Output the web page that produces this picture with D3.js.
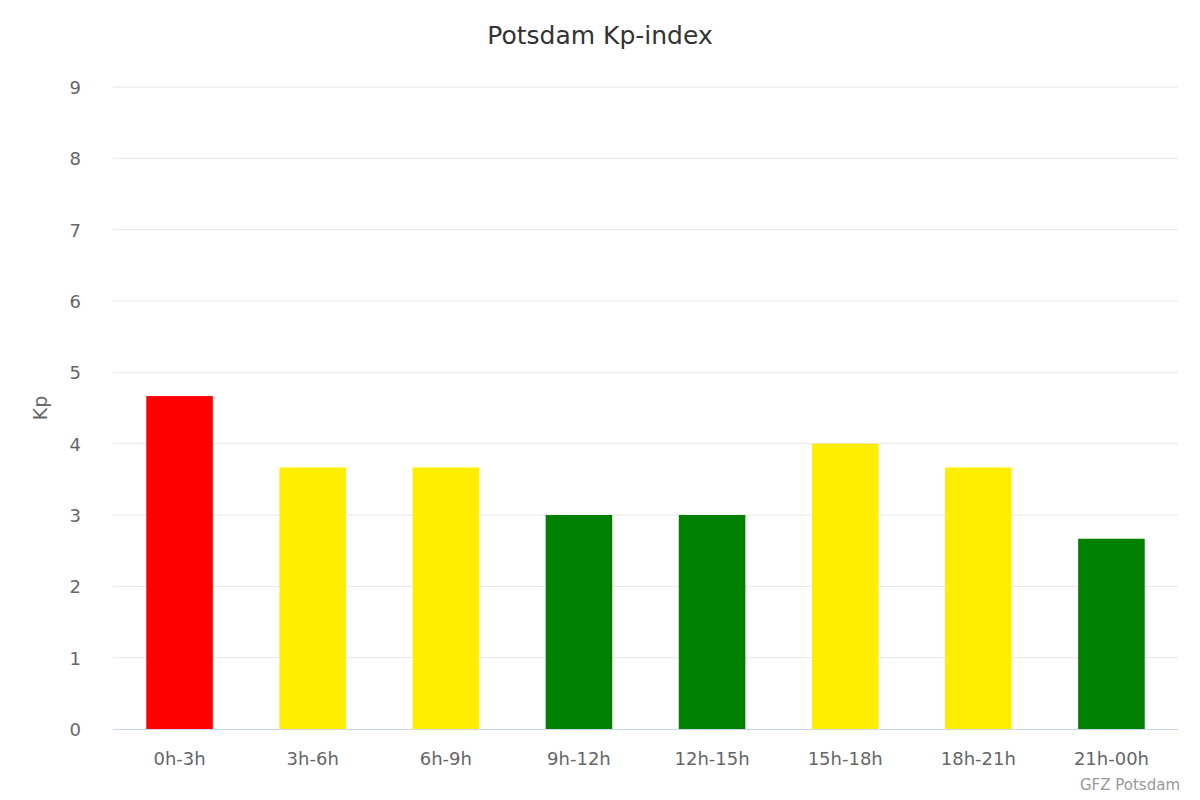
<!DOCTYPE html>
<html lang="en">
<head>
<meta charset="UTF-8">
<title>Potsdam Kp-index</title>
<script src="https://d3js.org/d3.v7.min.js"></script>
<style>
  body { margin: 0; background: #fff; font-family: "DejaVu Sans", sans-serif; }
</style>
</head>
<body>
<div id="chart"></div>
<script>
// Data
const periods = ["0h-3h", "3h-6h", "6h-9h", "9h-12h", "12h-15h", "15h-18h", "18h-21h", "21h-00h"];
const kpValues = [4.667, 3.667, 3.667, 3, 3, 4, 3.667, 2.667];
const barColors = ["#ff0000", "#ffee00", "#ffee00", "#008000", "#008000", "#ffee00", "#ffee00", "#008000"];
const yTicks = [0, 1, 2, 3, 4, 5, 6, 7, 8, 9];

const W = 1200, H = 800;
const margin = {top: 87, right: 22, bottom: 71, left: 113};
const width = W - margin.left - margin.right,
      height = H - margin.top - margin.bottom;

const svg = d3.select("#chart").append("svg")
    .attr("width", W).attr("height", H);

svg.append("text")
    .attr("x", W / 2).attr("y", 44)
    .attr("text-anchor", "middle")
    .style("font-size", "25px").style("fill", "#333")
    .text("Potsdam Kp-index");

const g = svg.append("g").attr("transform", `translate(${margin.left},${margin.top})`);

const x = d3.scaleBand().domain(periods).range([0, width]).paddingInner(0.5).paddingOuter(0.25);
const y = d3.scaleLinear().domain([0, 9]).range([height, 0]);

// grid
g.selectAll(".grid").data(yTicks.slice(1)).join("line")
    .attr("x1", 0).attr("x2", width)
    .attr("y1", d => y(d)).attr("y2", d => y(d))
    .attr("stroke", "#e6e6e6").attr("stroke-width", 1);

// bars
g.selectAll("rect").data(kpValues).join("rect")
    .attr("x", (d, i) => x(periods[i]))
    .attr("y", d => y(d))
    .attr("width", x.bandwidth())
    .attr("height", d => height - y(d))
    .attr("fill", (d, i) => barColors[i]);

// x axis line
g.append("line")
    .attr("x1", 0).attr("x2", width)
    .attr("y1", height + 0.5).attr("y2", height + 0.5)
    .attr("stroke", "#ccd6eb");

// y tick labels
g.selectAll(".ylab").data(yTicks).join("text")
    .attr("x", -32).attr("y", d => y(d) + 7)
    .attr("text-anchor", "end")
    .style("font-size", "18px").style("fill", "#666")
    .text(d => d);

// x tick labels
g.selectAll(".xlab").data(periods).join("text")
    .attr("x", d => x(d) + x.bandwidth() / 2)
    .attr("y", height + 36)
    .attr("text-anchor", "middle")
    .style("font-size", "18px").style("fill", "#666")
    .text(d => d);

// y axis title
svg.append("text")
    .attr("transform", `translate(47,${margin.top + height / 2}) rotate(-90)`)
    .attr("text-anchor", "middle")
    .style("font-size", "19px").style("fill", "#666")
    .text("Kp");

// credits
svg.append("text")
    .attr("x", W - 20).attr("y", H - 10)
    .attr("text-anchor", "end")
    .style("font-size", "15px").style("fill", "#999")
    .text("GFZ Potsdam");
</script>
</body>
</html>
